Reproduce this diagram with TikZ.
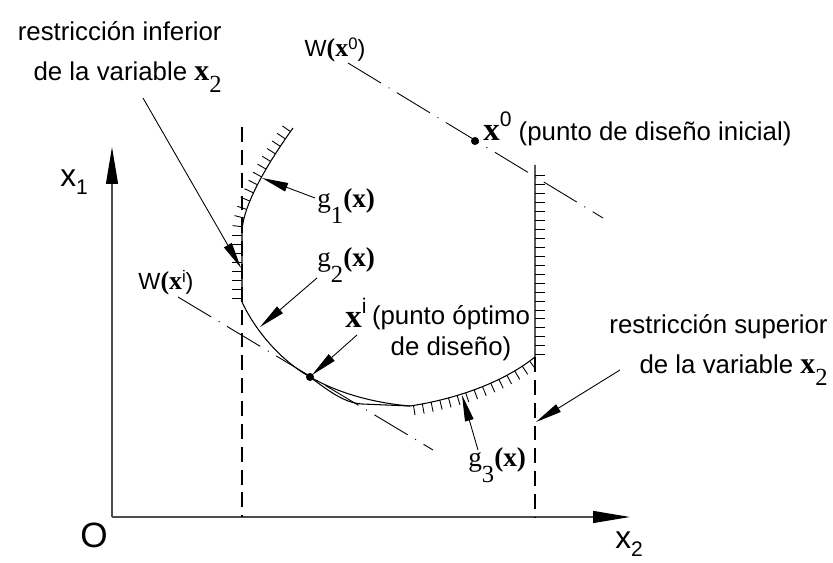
\documentclass[tikz,border=0pt]{standalone}
\usepackage{fontspec}
\setmainfont{Liberation Sans}
\newfontfamily\tnr{Liberation Serif}
\usetikzlibrary{arrows.meta,decorations.markings}

\newcommand{\sz}[1]{\fontsize{#1}{#1}\selectfont}
\newcommand{\gfun}[1]{{\tnr\sz{15.5}g\raisebox{-9pt}{\sz{14}#1}\textbf{(x)}}}
\newcommand{\wfun}[1]{{\sz{13.3}W{\tnr\bfseries\sz{14.7}(x}\raisebox{4pt}{\sz{9.5}#1})}}
\newcommand{\xtwo}{{\tnr\sz{17}\textbf{x}\raisebox{-6.5pt}{\sz{14}2}}}
\newcommand{\xpt}[1]{{\tnr\bfseries\sz{18.7}x}\raisebox{8pt}{\sz{12}#1}}

\begin{document}
\begin{tikzpicture}[x=0.02cm, y=-0.02cm,
  lbl/.style={inner sep=0pt, font=\sz{14.7}},
  twoline/.style={inner sep=0pt, font=\fontsize{14.7}{23}\selectfont},
  arr/.style={-{Triangle[length=15pt,width=5pt]}, line width=0.5pt},
  axisarr/.style={-{Triangle[length=21pt,width=6.8pt,color=black]}, line width=0.7pt, black!70},
  bound/.style={line width=0.6pt},
  dashln/.style={line width=0.6pt, dash pattern=on 8.5pt off 4.5pt},
  wline/.style={line width=0.5pt, dash pattern=on 22pt off 5pt on 0.6pt off 5pt},
  dotn/.style={circle, fill, inner sep=0pt, minimum size=4.6pt},
  hatchl/.style={postaction={decorate}, decoration={markings,
      mark=between positions 2pt and -1pt step 5.1pt with {\draw[line width=0.5pt] (0pt,0pt) -- (0pt,5.6pt);}}},
  hatchr/.style={postaction={decorate}, decoration={markings,
      mark=between positions 2pt and -1pt step 5.1pt with {\draw[line width=0.5pt] (0pt,0pt) -- (0pt,-5.6pt);}}}
]
\useasboundingbox (0,0) rectangle (833,563);

% axes
\coordinate (O) at (112,517);
\coordinate (x1end) at (112,147);
\coordinate (x2end) at (630,517);
\draw[axisarr] (O) -- (x1end);
\draw[axisarr] (O) -- (x2end);
\node[inner sep=0pt, anchor=base west] (x1lbl) at (60,187) {\sz{18}x\raisebox{-4.5pt}{\sz{12}1}};
\node[inner sep=0pt, anchor=base west] (olbl) at (80,548) {\sz{20}O};
\node[inner sep=0pt, anchor=base west] (x2lbl) at (615,549) {\sz{18}x\raisebox{-4pt}{\sz{12}2}};

% side limits of x2
\coordinate (lowtop) at (242,127);
\coordinate (lowbot) at (242,517);
\coordinate (uptop) at (535,357);
\coordinate (upbot) at (535,517);
\draw[dashln] (lowtop) -- (lowbot);
\draw[dashln] (uptop) -- (upbot);

% constraints
\coordinate (xipt) at (310,377);
\coordinate (g23) at (410,406);
\draw[bound, hatchl] (242,302) -- (242,233) .. controls (242,205) and (270,160) .. (293,128);
\draw[bound] (242,302) .. controls (255,330) and (280,360) .. (xipt)
  .. controls (340,394) and (375,403) .. (g23);
\draw[bound] (xipt) .. controls (330,392) and (345,403) .. (362,404) -- (g23);
\draw[bound, hatchr] (g23) .. controls (450,400) and (500,385) .. (uptop) -- (535,165);

% level lines of W
\coordinate (w0a) at (348,63);
\coordinate (w0b) at (603,218);
\coordinate (wia) at (178,297);
\coordinate (wib) at (433,450);
\draw[wline] (w0a) -- (w0b);
\draw[wline] (wia) -- (wib);
\node[dotn] (x0) at (475,141) {};
\node[dotn] (xi) at (xipt) {};

% labels
\node[twoline, align=right, anchor=east] (lowlbl) at (222,57) {restricción inferior\\de la variable \xtwo};
\node[twoline, align=right, anchor=east] (uplbl) at (828,350) {restricción superior\\de la variable \xtwo};
\node[lbl] (w0lbl) at (335,50) {\wfun{0}};
\node[lbl] (wilbl) at (166,283) {\wfun{i}};
\node[lbl, anchor=base west] (x0lbl) at (483,141) {\xpt{0} (punto de diseño inicial)};
\node[lbl, anchor=base west] (xilbl) at (345,328) {\xpt{i}};
\node[lbl, align=center, font=\fontsize{14.7}{17.6}\selectfont] (xitxt) at (451,333) {(punto óptimo\\de diseño)};
\node[lbl, anchor=base west] (g1lbl) at (317,208) {\gfun{1}};
\node[lbl, anchor=base west] (g2lbl) at (317,267) {\gfun{2}};
\node[lbl, anchor=base west] (g3lbl) at (468,467) {\gfun{3}};

% pointers
\coordinate (lowfrom) at (143,98);   \coordinate (lowtip) at (241,268);
\coordinate (g1from) at (315,198);   \coordinate (g1tip) at (262,178);
\coordinate (g2from) at (317,278);   \coordinate (g2tip) at (260,327);
\coordinate (xifrom) at (357,335);   \coordinate (xitip) at (312,375);
\coordinate (g3from) at (478,450);   \coordinate (g3tip) at (462,395);
\coordinate (upfrom) at (620,370);   \coordinate (uptip) at (536,422);
\draw[arr] (lowfrom) -- (lowtip);
\draw[arr] (g1from) -- (g1tip);
\draw[arr] (g2from) -- (g2tip);
\draw[arr] (xifrom) -- (xitip);
\draw[arr] (g3from) -- (g3tip);
\draw[arr] (upfrom) -- (uptip);
\end{tikzpicture}
\end{document}
